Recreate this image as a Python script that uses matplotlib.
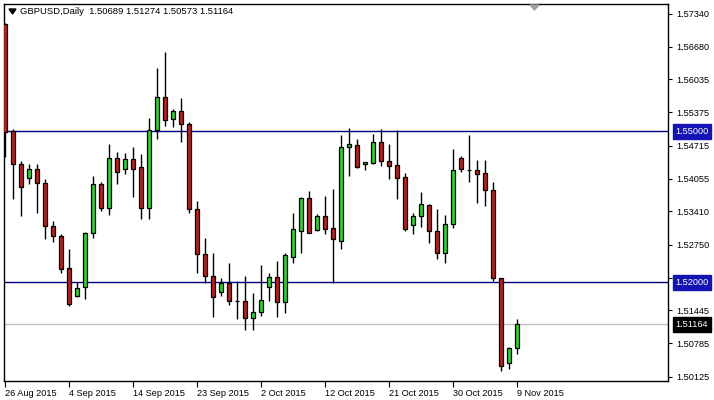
import numpy as np
import pandas as pd
import matplotlib
matplotlib.use("Agg")
import matplotlib.pyplot as plt
from matplotlib.patches import Polygon

plt.rcParams["font.family"] = ["Liberation Sans", "DejaVu Sans"]

# GBPUSD daily candles, 26 Aug 2015 - 9 Nov 2015 (broker with Sunday bars)
opens = [1.57131, 1.55005, 1.54344, 1.54077, 1.54244, 1.53966, 1.53124, 1.52913, 1.52277, 1.51733,
         1.51900, 1.52973, 1.53952, 1.53481, 1.54463, 1.54256, 1.54443, 1.54290, 1.53481, 1.55025,
         1.55675, 1.55238, 1.55403, 1.55145, 1.53449, 1.52555, 1.52130, 1.51800, 1.51991, 1.51627,
         1.51627, 1.51284, 1.51403, 1.51900, 1.52098, 1.51601, 1.52508, 1.53024, 1.53668, 1.53038,
         1.53316, 1.53072, 1.52826, 1.54681, 1.54721, 1.54344, 1.54375, 1.54781, 1.54409, 1.54330,
         1.54085, 1.53131, 1.53322, 1.53535, 1.53018, 1.52575, 1.53151, 1.54463, 1.54230, 1.54224,
         1.54165, 1.53827, 1.52078, 1.50389, 1.50689]
highs = [1.57160, 1.55045, 1.54409, 1.54350, 1.54350, 1.54051, 1.53223, 1.52953, 1.52661, 1.51999,
         1.53000, 1.54117, 1.53986, 1.54747, 1.54594, 1.54562, 1.54693, 1.54548, 1.55258, 1.56251,
         1.56569, 1.55442, 1.55667, 1.55178, 1.53614, 1.52873, 1.52575, 1.52078, 1.52376, 1.52025,
         1.52130, 1.51792, 1.52343, 1.52178, 1.52428, 1.52575, 1.53382, 1.53700, 1.53813, 1.53356,
         1.53714, 1.53853, 1.54926, 1.55071, 1.54840, 1.54390, 1.54946, 1.55045, 1.54747, 1.55025,
         1.54165, 1.53382, 1.53787, 1.53555, 1.53455, 1.53336, 1.54648, 1.54509, 1.54926, 1.54429,
         1.54429, 1.53986, 1.52085, 1.50719, 1.51274]
lows = [1.54495, 1.53654, 1.53322, 1.53946, 1.53370, 1.52865, 1.52794, 1.52178, 1.51534, 1.51703,
        1.51673, 1.52873, 1.53422, 1.53342, 1.53952, 1.54157, 1.53700, 1.53263, 1.53263, 1.54840,
        1.55111, 1.55079, 1.54781, 1.53370, 1.52178, 1.51979, 1.51315, 1.51727, 1.51542, 1.51264,
        1.51051, 1.51051, 1.51335, 1.51633, 1.51303, 1.51383, 1.52376, 1.52587, 1.52973, 1.53018,
        1.52959, 1.51979, 1.52655, 1.54117, 1.54280, 1.54230, 1.54350, 1.54316, 1.54051, 1.53654,
        1.53024, 1.52959, 1.53104, 1.52786, 1.52456, 1.52388, 1.53072, 1.54197, 1.53998, 1.53569,
        1.53521, 1.52025, 1.50242, 1.50276, 1.50573]
closes = [1.54991, 1.54344, 1.53887, 1.54244, 1.53966, 1.53124, 1.52925, 1.52269, 1.51574, 1.51880,
          1.52985, 1.53952, 1.53481, 1.54463, 1.54197, 1.54443, 1.54256, 1.53481, 1.55025, 1.55675,
          1.55218, 1.55403, 1.55138, 1.53449, 1.52555, 1.52130, 1.51703, 1.51991, 1.51627, 1.51620,
          1.51284, 1.51403, 1.51647, 1.52110, 1.51601, 1.52541, 1.53052, 1.53668, 1.52984, 1.53316,
          1.53064, 1.52853, 1.54681, 1.54741, 1.54284, 1.54383, 1.54781, 1.54409, 1.54316, 1.54077,
          1.53064, 1.53322, 1.53549, 1.53012, 1.52575, 1.53151, 1.54230, 1.54244, 1.54236, 1.54145,
          1.53827, 1.52078, 1.50342, 1.50687, 1.51164]

ytick_values = [1.57340, 1.56680, 1.56035, 1.55375, 1.54715, 1.54055, 1.53410,
                1.52750, 1.52090, 1.51445, 1.50785, 1.50125]
hlines = [1.55000, 1.52000]
bid = closes[-1]

# bar dates: every day except Saturday
days = pd.date_range("2015-08-26", "2015-11-09")
dates = days[days.dayofweek != 5]

o = np.array(opens)
h = np.array(highs)
l = np.array(lows)
c = np.array(closes)
x = np.arange(len(o))
up = c >= o

fig = plt.figure(figsize=(7.14, 4.0), dpi=100)
fig.patch.set_facecolor("white")
ax = fig.add_axes([4 / 714, 19 / 400, 664 / 714, 377 / 400])

# horizontal levels
for lv in hlines:
    ax.axhline(lv, color="#000080", lw=1.0, zorder=1)
ax.axhline(bid, color="#c0c0c0", lw=1.0, zorder=1)

# wicks and bodies
ax.vlines(x, l, h, color="black", lw=1.0, zorder=2)
bottoms = np.minimum(o, c)
heights = np.abs(c - o)
colors = np.where(up, "#32cd32", "#b22222")
ax.bar(x, heights, bottom=bottoms, width=0.6, color=colors,
       edgecolor="black", linewidth=0.9, zorder=3)

ax.set_xlim(-0.125, 82.875)
ax.set_ylim(1.50038, 1.57529)

# axes styling
for s in ax.spines.values():
    s.set_color("black")
    s.set_linewidth(1.0)
ax.yaxis.tick_right()
ax.set_yticks(ytick_values)
ax.set_yticklabels([f"{v:.5f}" for v in ytick_values])
ax.tick_params(axis="y", direction="out", length=3, pad=3, labelsize=6.6, colors="black")

tick_idx = list(range(0, len(dates), 8))
ax.set_xticks(tick_idx)
ax.set_xticklabels([f"{dates[i].day} {dates[i].strftime('%b %Y')}" for i in tick_idx],
                   ha="left")
ax.tick_params(axis="x", direction="out", length=4, pad=1.5, labelsize=6.6, colors="black")

# price tags on the right axis
def tag(val, bg):
    ax.annotate(f"{val:.5f}", xy=(1.0, val), xycoords=("axes fraction", "data"),
                xytext=(5.3, 0), textcoords="offset points", va="center", ha="left",
                fontsize=6.6, color="white", zorder=10, annotation_clip=False,
                bbox=dict(boxstyle="square,pad=0.3", fc=bg, ec=bg))

for lv in hlines:
    tag(lv, "#1414b4")
tag(bid, "black")

# header text
fig.text(20 / 714, 1 - 12 / 400, "GBPUSD,Daily  1.50689 1.51274 1.50573 1.51164",
         fontsize=6.8, va="center", ha="left", color="black")
fig.patches.append(Polygon([[9 / 714, 1 - 9 / 400], [16 / 714, 1 - 9 / 400], [12.5 / 714, 1 - 14 / 400]],
                           closed=True, transform=fig.transFigure, fc="black", ec="black"))
# chart shift marker
fig.patches.append(Polygon([[530 / 714, 1 - 5 / 400], [539 / 714, 1 - 5 / 400], [534.5 / 714, 1 - 10 / 400]],
                           closed=True, transform=fig.transFigure, fc="#a0a0a0", ec="#a0a0a0"))

fig.savefig("out.png", dpi=100, facecolor="white")
